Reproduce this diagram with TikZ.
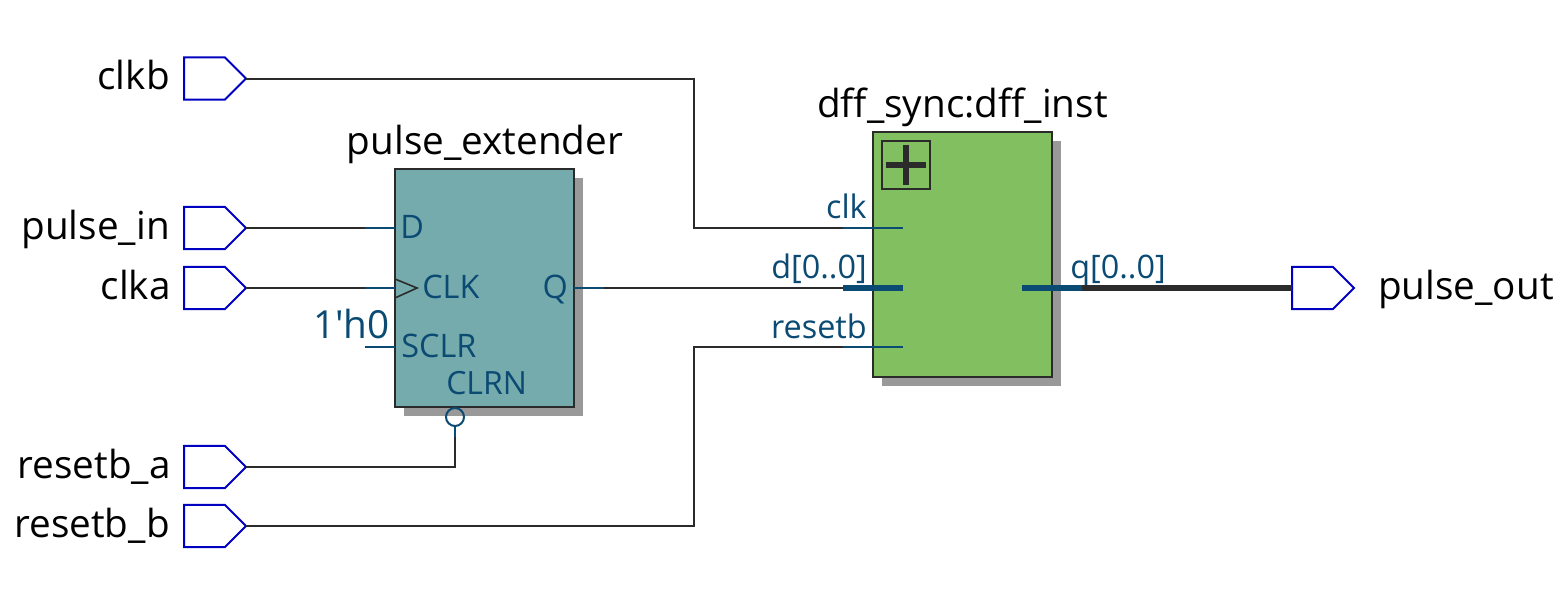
\documentclass[tikz,border=0pt]{standalone}
\usepackage{fontspec}
\setmainfont{Open Sans}
\usetikzlibrary{shapes.symbols}
\definecolor{wirec}{HTML}{2B2B2B}
\definecolor{pinc}{HTML}{0A4A73}
\definecolor{portc}{HTML}{0000C0}
\definecolor{tealc}{HTML}{76ABAD}
\definecolor{greenc}{HTML}{82BF60}
\definecolor{shadc}{HTML}{999999}
\tikzset{
  x=0.75pt,y=-0.75pt,
  wire/.style={draw=wirec,line width=1.5pt},
  buswire/.style={draw=wirec,line width=4.5pt},
  pin/.style={draw=pinc,line width=1.5pt},
  buspin/.style={draw=pinc,line width=4.5pt},
  port/.style={shape=signal,signal to=east,signal pointer angle=90,draw=portc,fill=white,line width=1.5pt,minimum width=46.5pt,minimum height=31.7pt,inner sep=0pt,outer sep=0pt},
  portlabel/.style={font=\fontsize{29}{32}\selectfont,text=black,inner sep=0pt},
  title/.style={font=\fontsize{29}{32}\selectfont,text=black,inner sep=0pt},
  pinlabel/.style={font=\fontsize{24.3}{27}\selectfont,text=pinc,inner sep=0pt},
  block/.style={draw=wirec,line width=1.5pt},
  shadow/.style={fill=shadc},
}
\begin{document}
\begin{tikzpicture}
\useasboundingbox (0,0) rectangle (1568,589);
% ports
\node[port] (clkb) at (204.5,78.5) {};
\node[port] (pulsein) at (204.5,228) {};
\node[port] (clka) at (204.5,288) {};
\node[port] (reseta) at (204.5,467) {};
\node[port] (resetb) at (204.5,526) {};
\node[port] (pulseout) at (1312.5,288) {};
\node[portlabel,anchor=base east] (lclkb) at (170,89) {clkb};
\node[portlabel,anchor=base east] (lpulsein) at (170,239) {pulse\_in};
\node[portlabel,anchor=base east] (lclka) at (171,299) {clka};
\node[portlabel,anchor=base east] (lreseta) at (171,478) {resetb\_a};
\node[portlabel,anchor=base east] (lresetb) at (170,537) {resetb\_b};
\node[portlabel,anchor=base west] (lpulseout) at (1378,299) {pulse\_out};
% pulse_extender
\fill[shadow] (404,178) rectangle (583,416);
\node[block,fill=tealc,minimum width=134.25pt,minimum height=178.5pt,inner sep=0pt,outer sep=0pt] (pe) at (484.5,288) {};
\node[title,anchor=base] (tpe) at (485,154) {pulse\_extender};
\node[pinlabel,anchor=base west] (lD) at (400,238) {D};
\node[pinlabel,anchor=base west] (lCLK) at (422,298) {CLK};
\node[pinlabel,anchor=base east] (lQ) at (568,298) {Q};
\node[pinlabel,anchor=base west] (lSCLR) at (401,357) {SCLR};
\node[pinlabel,font=\fontsize{24}{27}\selectfont,anchor=base west] (lCLRN) at (446,394) {CLRN};
\node[pinlabel,font=\fontsize{29}{32}\selectfont,anchor=base east] (lzero) at (390,338) {1\textquotesingle h0};
\coordinate (peD) at (395,228);
\coordinate (peDs) at (365,228);
\coordinate (peC) at (395,288);
\coordinate (peCs) at (365,288);
\coordinate (peS) at (395,347);
\coordinate (peSs) at (365,347);
\coordinate (peQ) at (574,288);
\coordinate (peQs) at (604,288);
\coordinate (cs) at (455,437);
\node[draw=pinc,line width=1.5pt,circle,minimum size=13.5pt,inner sep=0pt,outer sep=0pt] (bub) at (455,417) {};
\draw[draw=wirec,line width=1.2pt] (395,279) -- (417,288) -- (395,298);
% dff
\fill[shadow] (882,141) rectangle (1061,386);
\node[block,fill=greenc,minimum width=134.25pt,minimum height=183.75pt,inner sep=0pt,outer sep=0pt] (dff) at (962.5,254.5) {};
\node[title,anchor=base] (tdff) at (962.5,117) {dff\_sync:dff\_inst};
\node[draw=wirec,line width=1.5pt,minimum size=35.5pt,inner sep=0pt,outer sep=0pt] (plusbox) at (906,165) {};
\draw[draw=wirec,line width=4pt] (886,165) -- (926,165) (906,145) -- (906,185);
\node[pinlabel,anchor=base east] (lclk) at (867,218) {clk};
\node[pinlabel,anchor=base east] (ld) at (867,278) {d[0..0]};
\node[pinlabel,anchor=base east] (lrst) at (867,338) {resetb};
\node[pinlabel,anchor=base west] (lq) at (1070,278) {q[0..0]};
\coordinate (dclks) at (843,228);
\coordinate (dclk) at (903,228);
\coordinate (dds) at (843,288);
\coordinate (dd) at (903,288);
\coordinate (drs) at (843,347);
\coordinate (dr) at (903,347);
\coordinate (dqs) at (1082,288);
\coordinate (dq) at (1022,288);
\coordinate (b1) at (694,78.5);
\coordinate (b2) at (694,228);
\coordinate (b3) at (694,526);
\coordinate (b4) at (694,347);
\coordinate (b5) at (455,467);
% wires
\draw[wire] (clkb.east) -- (b1) -- (b2) -- (dclks);
\draw[wire] (pulsein.east) -- (peDs);
\draw[wire] (clka.east) -- (peCs);
\draw[wire] (peQs) -- (dds);
\draw[wire] (reseta.east) -- (b5) -- (cs);
\draw[wire] (resetb.east) -- (b3) -- (b4) -- (drs);
\draw[buswire] (dqs) -- (pulseout.west);
% pin stubs
\draw[pin] (peDs) -- (peD);
\draw[pin] (peCs) -- (peC);
\draw[pin] (peSs) -- (peS);
\draw[pin] (peQ) -- (peQs);
\draw[pin] (bub.south) -- (cs);
\draw[pin] (dclks) -- (dclk);
\draw[pin] (drs) -- (dr);
\draw[buspin] (dds) -- (dd);
\draw[buspin] (dq) -- (dqs);
\end{tikzpicture}
\end{document}
